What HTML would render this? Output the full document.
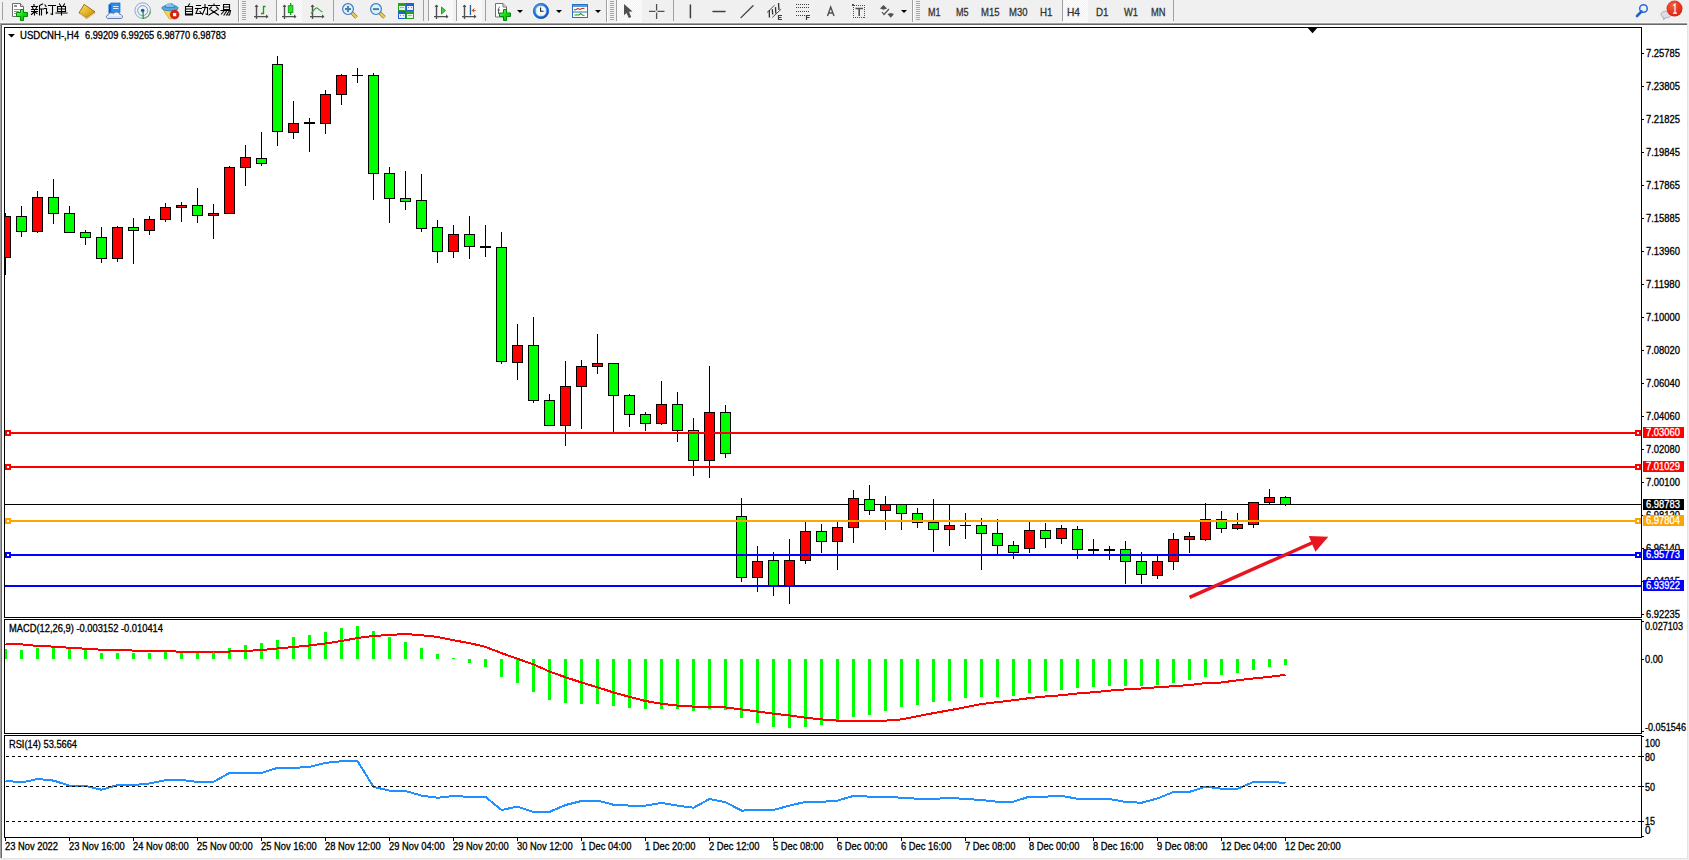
<!DOCTYPE html>
<html><head><meta charset="utf-8"><style>
html,body{margin:0;padding:0;}
body{width:1689px;height:860px;overflow:hidden;background:#f0f0f0;position:relative;font-family:"Liberation Sans",sans-serif;}
svg{position:absolute;left:0;top:0;}
</style></head><body>
<svg width="1689" height="860" viewBox="0 0 1689 860">
<defs>
<clipPath id="clipMain"><rect x="5" y="28" width="1636" height="589"/></clipPath>
<clipPath id="clipMacd"><rect x="5" y="620" width="1636" height="113"/></clipPath>
<clipPath id="clipRsi"><rect x="5" y="736" width="1636" height="101"/></clipPath>
</defs>
<!-- window frame -->
<g shape-rendering="crispEdges">
<rect x="0" y="23" width="1688" height="836" fill="#e3e3e3"/>
<rect x="0" y="23" width="1687" height="835" fill="#a0a0a0"/>
<rect x="1" y="24" width="1686" height="834" fill="#696969"/>
<rect x="2" y="25" width="1685" height="833" fill="#ffffff"/>
<rect x="1687" y="24" width="1" height="835" fill="#e3e3e3"/>
<rect x="1" y="858" width="1687" height="1" fill="#e3e3e3"/>
</g>
<g shape-rendering="crispEdges">
<rect x="5" y="504" width="1636" height="1" fill="#000"/>
<g clip-path="url(#clipMain)" shape-rendering="crispEdges">
<rect x="5" y="213" width="1" height="62" fill="#000"/>
<rect x="0" y="216" width="11" height="42" fill="#000"/>
<rect x="1" y="217" width="9" height="40" fill="#ff0000"/>
<rect x="21" y="206" width="1" height="31" fill="#000"/>
<rect x="16" y="216" width="11" height="16" fill="#000"/>
<rect x="17" y="217" width="9" height="14" fill="#00ff00"/>
<rect x="37" y="191" width="1" height="42" fill="#000"/>
<rect x="32" y="197" width="11" height="35" fill="#000"/>
<rect x="33" y="198" width="9" height="33" fill="#ff0000"/>
<rect x="53" y="179" width="1" height="45" fill="#000"/>
<rect x="48" y="197" width="11" height="17" fill="#000"/>
<rect x="49" y="198" width="9" height="15" fill="#00ff00"/>
<rect x="69" y="206" width="1" height="27" fill="#000"/>
<rect x="64" y="213" width="11" height="20" fill="#000"/>
<rect x="65" y="214" width="9" height="18" fill="#00ff00"/>
<rect x="85" y="230" width="1" height="15" fill="#000"/>
<rect x="80" y="232" width="11" height="6" fill="#000"/>
<rect x="81" y="233" width="9" height="4" fill="#00ff00"/>
<rect x="101" y="227" width="1" height="36" fill="#000"/>
<rect x="96" y="237" width="11" height="22" fill="#000"/>
<rect x="97" y="238" width="9" height="20" fill="#00ff00"/>
<rect x="117" y="226" width="1" height="36" fill="#000"/>
<rect x="112" y="227" width="11" height="32" fill="#000"/>
<rect x="113" y="228" width="9" height="30" fill="#ff0000"/>
<rect x="133" y="218" width="1" height="46" fill="#000"/>
<rect x="128" y="227" width="11" height="4" fill="#000"/>
<rect x="129" y="228" width="9" height="2" fill="#00ff00"/>
<rect x="149" y="216" width="1" height="19" fill="#000"/>
<rect x="144" y="219" width="11" height="12" fill="#000"/>
<rect x="145" y="220" width="9" height="10" fill="#ff0000"/>
<rect x="165" y="203" width="1" height="19" fill="#000"/>
<rect x="160" y="207" width="11" height="13" fill="#000"/>
<rect x="161" y="208" width="9" height="11" fill="#ff0000"/>
<rect x="181" y="202" width="1" height="20" fill="#000"/>
<rect x="176" y="205" width="11" height="3" fill="#000"/>
<rect x="177" y="206" width="9" height="1" fill="#ff0000"/>
<rect x="197" y="188" width="1" height="35" fill="#000"/>
<rect x="192" y="205" width="11" height="11" fill="#000"/>
<rect x="193" y="206" width="9" height="9" fill="#00ff00"/>
<rect x="213" y="204" width="1" height="35" fill="#000"/>
<rect x="208" y="213" width="11" height="3" fill="#000"/>
<rect x="209" y="214" width="9" height="1" fill="#ff0000"/>
<rect x="229" y="166" width="1" height="48" fill="#000"/>
<rect x="224" y="167" width="11" height="47" fill="#000"/>
<rect x="225" y="168" width="9" height="45" fill="#ff0000"/>
<rect x="245" y="145" width="1" height="41" fill="#000"/>
<rect x="240" y="157" width="11" height="11" fill="#000"/>
<rect x="241" y="158" width="9" height="9" fill="#ff0000"/>
<rect x="261" y="132" width="1" height="34" fill="#000"/>
<rect x="256" y="158" width="11" height="6" fill="#000"/>
<rect x="257" y="159" width="9" height="4" fill="#00ff00"/>
<rect x="277" y="56" width="1" height="90" fill="#000"/>
<rect x="272" y="64" width="11" height="68" fill="#000"/>
<rect x="273" y="65" width="9" height="66" fill="#00ff00"/>
<rect x="293" y="101" width="1" height="38" fill="#000"/>
<rect x="288" y="123" width="11" height="10" fill="#000"/>
<rect x="289" y="124" width="9" height="8" fill="#ff0000"/>
<rect x="309" y="118" width="1" height="34" fill="#000"/>
<rect x="304" y="122" width="11" height="2" fill="#000"/>
<rect x="325" y="90" width="1" height="44" fill="#000"/>
<rect x="320" y="94" width="11" height="30" fill="#000"/>
<rect x="321" y="95" width="9" height="28" fill="#ff0000"/>
<rect x="341" y="74" width="1" height="31" fill="#000"/>
<rect x="336" y="75" width="11" height="20" fill="#000"/>
<rect x="337" y="76" width="9" height="18" fill="#ff0000"/>
<rect x="357" y="68" width="1" height="15" fill="#000"/>
<rect x="352" y="75" width="11" height="1" fill="#000"/>
<rect x="373" y="73" width="1" height="127" fill="#000"/>
<rect x="368" y="75" width="11" height="99" fill="#000"/>
<rect x="369" y="76" width="9" height="97" fill="#00ff00"/>
<rect x="389" y="167" width="1" height="56" fill="#000"/>
<rect x="384" y="173" width="11" height="26" fill="#000"/>
<rect x="385" y="174" width="9" height="24" fill="#00ff00"/>
<rect x="405" y="171" width="1" height="39" fill="#000"/>
<rect x="400" y="198" width="11" height="4" fill="#000"/>
<rect x="401" y="199" width="9" height="2" fill="#00ff00"/>
<rect x="421" y="174" width="1" height="58" fill="#000"/>
<rect x="416" y="200" width="11" height="29" fill="#000"/>
<rect x="417" y="201" width="9" height="27" fill="#00ff00"/>
<rect x="437" y="220" width="1" height="43" fill="#000"/>
<rect x="432" y="227" width="11" height="25" fill="#000"/>
<rect x="433" y="228" width="9" height="23" fill="#00ff00"/>
<rect x="453" y="225" width="1" height="33" fill="#000"/>
<rect x="448" y="234" width="11" height="18" fill="#000"/>
<rect x="449" y="235" width="9" height="16" fill="#ff0000"/>
<rect x="469" y="216" width="1" height="43" fill="#000"/>
<rect x="464" y="234" width="11" height="13" fill="#000"/>
<rect x="465" y="235" width="9" height="11" fill="#00ff00"/>
<rect x="485" y="225" width="1" height="32" fill="#000"/>
<rect x="480" y="246" width="11" height="2" fill="#000"/>
<rect x="501" y="232" width="1" height="132" fill="#000"/>
<rect x="496" y="247" width="11" height="115" fill="#000"/>
<rect x="497" y="248" width="9" height="113" fill="#00ff00"/>
<rect x="517" y="324" width="1" height="56" fill="#000"/>
<rect x="512" y="345" width="11" height="18" fill="#000"/>
<rect x="513" y="346" width="9" height="16" fill="#ff0000"/>
<rect x="533" y="317" width="1" height="86" fill="#000"/>
<rect x="528" y="345" width="11" height="56" fill="#000"/>
<rect x="529" y="346" width="9" height="54" fill="#00ff00"/>
<rect x="549" y="394" width="1" height="32" fill="#000"/>
<rect x="544" y="400" width="11" height="26" fill="#000"/>
<rect x="545" y="401" width="9" height="24" fill="#00ff00"/>
<rect x="565" y="361" width="1" height="85" fill="#000"/>
<rect x="560" y="386" width="11" height="40" fill="#000"/>
<rect x="561" y="387" width="9" height="38" fill="#ff0000"/>
<rect x="581" y="360" width="1" height="69" fill="#000"/>
<rect x="576" y="366" width="11" height="21" fill="#000"/>
<rect x="577" y="367" width="9" height="19" fill="#ff0000"/>
<rect x="597" y="334" width="1" height="40" fill="#000"/>
<rect x="592" y="363" width="11" height="4" fill="#000"/>
<rect x="593" y="364" width="9" height="2" fill="#ff0000"/>
<rect x="613" y="363" width="1" height="69" fill="#000"/>
<rect x="608" y="363" width="11" height="33" fill="#000"/>
<rect x="609" y="364" width="9" height="31" fill="#00ff00"/>
<rect x="629" y="394" width="1" height="33" fill="#000"/>
<rect x="624" y="395" width="11" height="20" fill="#000"/>
<rect x="625" y="396" width="9" height="18" fill="#00ff00"/>
<rect x="645" y="412" width="1" height="19" fill="#000"/>
<rect x="640" y="414" width="11" height="10" fill="#000"/>
<rect x="641" y="415" width="9" height="8" fill="#00ff00"/>
<rect x="661" y="381" width="1" height="44" fill="#000"/>
<rect x="656" y="404" width="11" height="20" fill="#000"/>
<rect x="657" y="405" width="9" height="18" fill="#ff0000"/>
<rect x="677" y="392" width="1" height="50" fill="#000"/>
<rect x="672" y="404" width="11" height="27" fill="#000"/>
<rect x="673" y="405" width="9" height="25" fill="#00ff00"/>
<rect x="693" y="418" width="1" height="58" fill="#000"/>
<rect x="688" y="430" width="11" height="31" fill="#000"/>
<rect x="689" y="431" width="9" height="29" fill="#00ff00"/>
<rect x="709" y="366" width="1" height="112" fill="#000"/>
<rect x="704" y="412" width="11" height="49" fill="#000"/>
<rect x="705" y="413" width="9" height="47" fill="#ff0000"/>
<rect x="725" y="405" width="1" height="53" fill="#000"/>
<rect x="720" y="412" width="11" height="42" fill="#000"/>
<rect x="721" y="413" width="9" height="40" fill="#00ff00"/>
<rect x="741" y="498" width="1" height="84" fill="#000"/>
<rect x="736" y="516" width="11" height="62" fill="#000"/>
<rect x="737" y="517" width="9" height="60" fill="#00ff00"/>
<rect x="757" y="546" width="1" height="46" fill="#000"/>
<rect x="752" y="561" width="11" height="17" fill="#000"/>
<rect x="753" y="562" width="9" height="15" fill="#ff0000"/>
<rect x="773" y="552" width="1" height="44" fill="#000"/>
<rect x="768" y="560" width="11" height="27" fill="#000"/>
<rect x="769" y="561" width="9" height="25" fill="#00ff00"/>
<rect x="789" y="539" width="1" height="65" fill="#000"/>
<rect x="784" y="560" width="11" height="27" fill="#000"/>
<rect x="785" y="561" width="9" height="25" fill="#ff0000"/>
<rect x="805" y="522" width="1" height="42" fill="#000"/>
<rect x="800" y="531" width="11" height="30" fill="#000"/>
<rect x="801" y="532" width="9" height="28" fill="#ff0000"/>
<rect x="821" y="524" width="1" height="29" fill="#000"/>
<rect x="816" y="531" width="11" height="11" fill="#000"/>
<rect x="817" y="532" width="9" height="9" fill="#00ff00"/>
<rect x="837" y="522" width="1" height="48" fill="#000"/>
<rect x="832" y="527" width="11" height="15" fill="#000"/>
<rect x="833" y="528" width="9" height="13" fill="#ff0000"/>
<rect x="853" y="490" width="1" height="53" fill="#000"/>
<rect x="848" y="498" width="11" height="30" fill="#000"/>
<rect x="849" y="499" width="9" height="28" fill="#ff0000"/>
<rect x="869" y="485" width="1" height="30" fill="#000"/>
<rect x="864" y="499" width="11" height="12" fill="#000"/>
<rect x="865" y="500" width="9" height="10" fill="#00ff00"/>
<rect x="885" y="496" width="1" height="34" fill="#000"/>
<rect x="880" y="504" width="11" height="7" fill="#000"/>
<rect x="881" y="505" width="9" height="5" fill="#ff0000"/>
<rect x="901" y="504" width="1" height="26" fill="#000"/>
<rect x="896" y="504" width="11" height="10" fill="#000"/>
<rect x="897" y="505" width="9" height="8" fill="#00ff00"/>
<rect x="917" y="508" width="1" height="20" fill="#000"/>
<rect x="912" y="513" width="11" height="10" fill="#000"/>
<rect x="913" y="514" width="9" height="8" fill="#00ff00"/>
<rect x="933" y="499" width="1" height="53" fill="#000"/>
<rect x="928" y="522" width="11" height="8" fill="#000"/>
<rect x="929" y="523" width="9" height="6" fill="#00ff00"/>
<rect x="949" y="504" width="1" height="42" fill="#000"/>
<rect x="944" y="525" width="11" height="5" fill="#000"/>
<rect x="945" y="526" width="9" height="3" fill="#ff0000"/>
<rect x="965" y="513" width="1" height="26" fill="#000"/>
<rect x="960" y="525" width="11" height="1" fill="#000"/>
<rect x="981" y="518" width="1" height="52" fill="#000"/>
<rect x="976" y="525" width="11" height="9" fill="#000"/>
<rect x="977" y="526" width="9" height="7" fill="#00ff00"/>
<rect x="997" y="519" width="1" height="35" fill="#000"/>
<rect x="992" y="533" width="11" height="13" fill="#000"/>
<rect x="993" y="534" width="9" height="11" fill="#00ff00"/>
<rect x="1013" y="541" width="1" height="18" fill="#000"/>
<rect x="1008" y="545" width="11" height="8" fill="#000"/>
<rect x="1009" y="546" width="9" height="6" fill="#00ff00"/>
<rect x="1029" y="522" width="1" height="31" fill="#000"/>
<rect x="1024" y="530" width="11" height="19" fill="#000"/>
<rect x="1025" y="531" width="9" height="17" fill="#ff0000"/>
<rect x="1045" y="523" width="1" height="25" fill="#000"/>
<rect x="1040" y="530" width="11" height="9" fill="#000"/>
<rect x="1041" y="531" width="9" height="7" fill="#00ff00"/>
<rect x="1061" y="525" width="1" height="19" fill="#000"/>
<rect x="1056" y="528" width="11" height="11" fill="#000"/>
<rect x="1057" y="529" width="9" height="9" fill="#ff0000"/>
<rect x="1077" y="526" width="1" height="33" fill="#000"/>
<rect x="1072" y="529" width="11" height="21" fill="#000"/>
<rect x="1073" y="530" width="9" height="19" fill="#00ff00"/>
<rect x="1093" y="539" width="1" height="15" fill="#000"/>
<rect x="1088" y="549" width="11" height="2" fill="#000"/>
<rect x="1109" y="546" width="1" height="14" fill="#000"/>
<rect x="1104" y="549" width="11" height="2" fill="#000"/>
<rect x="1125" y="541" width="1" height="43" fill="#000"/>
<rect x="1120" y="549" width="11" height="13" fill="#000"/>
<rect x="1121" y="550" width="9" height="11" fill="#00ff00"/>
<rect x="1141" y="552" width="1" height="32" fill="#000"/>
<rect x="1136" y="561" width="11" height="14" fill="#000"/>
<rect x="1137" y="562" width="9" height="12" fill="#00ff00"/>
<rect x="1157" y="556" width="1" height="23" fill="#000"/>
<rect x="1152" y="561" width="11" height="15" fill="#000"/>
<rect x="1153" y="562" width="9" height="13" fill="#ff0000"/>
<rect x="1173" y="533" width="1" height="37" fill="#000"/>
<rect x="1168" y="539" width="11" height="23" fill="#000"/>
<rect x="1169" y="540" width="9" height="21" fill="#ff0000"/>
<rect x="1189" y="532" width="1" height="21" fill="#000"/>
<rect x="1184" y="536" width="11" height="4" fill="#000"/>
<rect x="1185" y="537" width="9" height="2" fill="#ff0000"/>
<rect x="1205" y="503" width="1" height="38" fill="#000"/>
<rect x="1200" y="519" width="11" height="21" fill="#000"/>
<rect x="1201" y="520" width="9" height="19" fill="#ff0000"/>
<rect x="1221" y="511" width="1" height="22" fill="#000"/>
<rect x="1216" y="519" width="11" height="10" fill="#000"/>
<rect x="1217" y="520" width="9" height="8" fill="#00ff00"/>
<rect x="1237" y="513" width="1" height="17" fill="#000"/>
<rect x="1232" y="524" width="11" height="5" fill="#000"/>
<rect x="1233" y="525" width="9" height="3" fill="#ff0000"/>
<rect x="1253" y="502" width="1" height="26" fill="#000"/>
<rect x="1248" y="502" width="11" height="23" fill="#000"/>
<rect x="1249" y="503" width="9" height="21" fill="#ff0000"/>
<rect x="1269" y="489" width="1" height="15" fill="#000"/>
<rect x="1264" y="497" width="11" height="6" fill="#000"/>
<rect x="1265" y="498" width="9" height="4" fill="#ff0000"/>
<rect x="1285" y="496" width="1" height="10" fill="#000"/>
<rect x="1280" y="497" width="11" height="8" fill="#000"/>
<rect x="1281" y="498" width="9" height="6" fill="#00ff00"/>
</g>
<g clip-path="url(#clipMacd)">
<g shape-rendering="crispEdges">
<rect x="4" y="649" width="3" height="10" fill="#00ff00"/>
<rect x="20" y="650" width="3" height="9" fill="#00ff00"/>
<rect x="36" y="648" width="3" height="11" fill="#00ff00"/>
<rect x="52" y="648" width="3" height="11" fill="#00ff00"/>
<rect x="68" y="649" width="3" height="10" fill="#00ff00"/>
<rect x="84" y="650" width="3" height="9" fill="#00ff00"/>
<rect x="100" y="653" width="3" height="6" fill="#00ff00"/>
<rect x="116" y="653" width="3" height="6" fill="#00ff00"/>
<rect x="132" y="653" width="3" height="6" fill="#00ff00"/>
<rect x="148" y="653" width="3" height="6" fill="#00ff00"/>
<rect x="164" y="652" width="3" height="7" fill="#00ff00"/>
<rect x="180" y="652" width="3" height="7" fill="#00ff00"/>
<rect x="196" y="653" width="3" height="6" fill="#00ff00"/>
<rect x="212" y="652" width="3" height="7" fill="#00ff00"/>
<rect x="228" y="648" width="3" height="11" fill="#00ff00"/>
<rect x="244" y="645" width="3" height="14" fill="#00ff00"/>
<rect x="260" y="643" width="3" height="16" fill="#00ff00"/>
<rect x="276" y="640" width="3" height="19" fill="#00ff00"/>
<rect x="292" y="637" width="3" height="22" fill="#00ff00"/>
<rect x="308" y="635" width="3" height="24" fill="#00ff00"/>
<rect x="324" y="632" width="3" height="27" fill="#00ff00"/>
<rect x="340" y="628" width="3" height="31" fill="#00ff00"/>
<rect x="356" y="626" width="3" height="33" fill="#00ff00"/>
<rect x="372" y="631" width="3" height="28" fill="#00ff00"/>
<rect x="388" y="637" width="3" height="22" fill="#00ff00"/>
<rect x="404" y="642" width="3" height="17" fill="#00ff00"/>
<rect x="420" y="648" width="3" height="11" fill="#00ff00"/>
<rect x="436" y="654" width="3" height="5" fill="#00ff00"/>
<rect x="452" y="658" width="3" height="1" fill="#00ff00"/>
<rect x="468" y="659" width="3" height="4" fill="#00ff00"/>
<rect x="484" y="659" width="3" height="8" fill="#00ff00"/>
<rect x="500" y="659" width="3" height="18" fill="#00ff00"/>
<rect x="516" y="659" width="3" height="24" fill="#00ff00"/>
<rect x="532" y="659" width="3" height="33" fill="#00ff00"/>
<rect x="548" y="659" width="3" height="41" fill="#00ff00"/>
<rect x="564" y="659" width="3" height="44" fill="#00ff00"/>
<rect x="580" y="659" width="3" height="45" fill="#00ff00"/>
<rect x="596" y="659" width="3" height="45" fill="#00ff00"/>
<rect x="612" y="659" width="3" height="47" fill="#00ff00"/>
<rect x="628" y="659" width="3" height="49" fill="#00ff00"/>
<rect x="644" y="659" width="3" height="50" fill="#00ff00"/>
<rect x="660" y="659" width="3" height="50" fill="#00ff00"/>
<rect x="676" y="659" width="3" height="50" fill="#00ff00"/>
<rect x="692" y="659" width="3" height="52" fill="#00ff00"/>
<rect x="708" y="659" width="3" height="50" fill="#00ff00"/>
<rect x="724" y="659" width="3" height="51" fill="#00ff00"/>
<rect x="740" y="659" width="3" height="59" fill="#00ff00"/>
<rect x="756" y="659" width="3" height="64" fill="#00ff00"/>
<rect x="772" y="659" width="3" height="68" fill="#00ff00"/>
<rect x="788" y="659" width="3" height="69" fill="#00ff00"/>
<rect x="804" y="659" width="3" height="68" fill="#00ff00"/>
<rect x="820" y="659" width="3" height="66" fill="#00ff00"/>
<rect x="836" y="659" width="3" height="63" fill="#00ff00"/>
<rect x="852" y="659" width="3" height="58" fill="#00ff00"/>
<rect x="868" y="659" width="3" height="56" fill="#00ff00"/>
<rect x="884" y="659" width="3" height="52" fill="#00ff00"/>
<rect x="900" y="659" width="3" height="48" fill="#00ff00"/>
<rect x="916" y="659" width="3" height="46" fill="#00ff00"/>
<rect x="932" y="659" width="3" height="43" fill="#00ff00"/>
<rect x="948" y="659" width="3" height="42" fill="#00ff00"/>
<rect x="964" y="659" width="3" height="39" fill="#00ff00"/>
<rect x="980" y="659" width="3" height="38" fill="#00ff00"/>
<rect x="996" y="659" width="3" height="38" fill="#00ff00"/>
<rect x="1012" y="659" width="3" height="37" fill="#00ff00"/>
<rect x="1028" y="659" width="3" height="34" fill="#00ff00"/>
<rect x="1044" y="659" width="3" height="32" fill="#00ff00"/>
<rect x="1060" y="659" width="3" height="31" fill="#00ff00"/>
<rect x="1076" y="659" width="3" height="29" fill="#00ff00"/>
<rect x="1092" y="659" width="3" height="28" fill="#00ff00"/>
<rect x="1108" y="659" width="3" height="27" fill="#00ff00"/>
<rect x="1124" y="659" width="3" height="27" fill="#00ff00"/>
<rect x="1140" y="659" width="3" height="27" fill="#00ff00"/>
<rect x="1156" y="659" width="3" height="26" fill="#00ff00"/>
<rect x="1172" y="659" width="3" height="24" fill="#00ff00"/>
<rect x="1188" y="659" width="3" height="21" fill="#00ff00"/>
<rect x="1204" y="659" width="3" height="18" fill="#00ff00"/>
<rect x="1220" y="659" width="3" height="16" fill="#00ff00"/>
<rect x="1236" y="659" width="3" height="14" fill="#00ff00"/>
<rect x="1252" y="659" width="3" height="11" fill="#00ff00"/>
<rect x="1268" y="659" width="3" height="8" fill="#00ff00"/>
<rect x="1284" y="659" width="3" height="6" fill="#00ff00"/>
</g>
<polyline points="5.5,643.75 21.5,644.4 37.5,645.9 53.5,646.6 69.5,647.75 85.5,648.75 101.5,649.75 117.5,649.75 133.5,650.6 149.5,650.75 165.5,650.75 181.5,651.9 197.5,651.9 213.5,651.5 229.5,651.5 245.5,651 261.5,650 277.5,648.5 293.5,647 309.5,645.5 325.5,643.5 341.5,641 357.5,638 373.5,636 389.5,635 405.5,634 421.5,635.25 437.5,636.9 453.5,640.25 469.5,643.1 485.5,646.9 501.5,653.1 517.5,658.75 533.5,664.4 549.5,671.5 565.5,677.25 581.5,682.5 597.5,687.25 613.5,692.5 629.5,696.9 645.5,701 661.5,703.75 677.5,705.6 693.5,706.6 709.5,706.9 725.5,707.5 741.5,709.4 757.5,711.5 773.5,713.75 789.5,715.4 805.5,717.75 821.5,719.4 837.5,720.6 853.5,721 869.5,721 885.5,720.6 901.5,719.4 917.5,716.25 933.5,713.1 949.5,710.25 965.5,707.25 981.5,704 997.5,702.1 1013.5,700.25 1029.5,698.1 1045.5,696.5 1061.5,695.25 1077.5,693.5 1093.5,692.25 1109.5,690.6 1125.5,689.4 1141.5,688.5 1157.5,687.25 1173.5,686.25 1189.5,685 1205.5,683.1 1221.5,682.5 1237.5,680.25 1253.5,678.5 1269.5,676.8 1285.5,674.9" fill="none" stroke="#ff0000" stroke-width="2" shape-rendering="crispEdges"/>
</g>
</g>
<g clip-path="url(#clipRsi)">
<polyline points="5.5,780.6 21.5,782.5 37.5,779 53.5,780.6 69.5,785.6 85.5,786 101.5,789.75 117.5,785 133.5,785 149.5,783.5 165.5,780.25 181.5,780 197.5,781.9 213.5,781.9 229.5,772.9 245.5,772.9 261.5,772.9 277.5,767.9 293.5,767.9 309.5,766.9 325.5,762.9 341.5,761.25 357.5,761 373.5,786.9 389.5,790.6 405.5,791 421.5,795.6 437.5,797.75 453.5,796 469.5,796.9 485.5,796.9 501.5,810 517.5,806.6 533.5,811.9 549.5,811.9 565.5,805 581.5,801 597.5,800.6 613.5,804.75 629.5,805.6 645.5,805.6 661.5,802.9 677.5,805.6 693.5,807.75 709.5,799 725.5,802.25 741.5,810.6 757.5,810 773.5,810 789.5,805.6 805.5,801.9 821.5,801.9 837.5,800.6 853.5,795.9 869.5,796.6 885.5,796.6 901.5,797.75 917.5,798.75 933.5,799 949.5,797.75 965.5,799 981.5,800 997.5,801.75 1013.5,801.6 1029.5,796.6 1045.5,796.6 1061.5,795.9 1077.5,798.75 1093.5,799 1109.5,799 1125.5,801.9 1141.5,802.75 1157.5,798.4 1173.5,792 1189.5,791.9 1205.5,786.6 1221.5,788.75 1237.5,788.75 1253.5,781.9 1269.5,781.9 1285.5,782.9" fill="none" stroke="#1e90ff" stroke-width="2" shape-rendering="crispEdges"/>
</g>
<g shape-rendering="crispEdges">
<!-- rsi levels -->
<line x1="6" y1="756.5" x2="1641" y2="756.5" stroke="#000" stroke-dasharray="3,3"/>
<line x1="6" y1="786.5" x2="1641" y2="786.5" stroke="#000" stroke-dasharray="3,3"/>
<line x1="6" y1="821.5" x2="1641" y2="821.5" stroke="#000" stroke-dasharray="3,3"/>
<!-- panel borders -->
<rect x="4.5" y="27.5" width="1637" height="590" fill="none" stroke="#000"/>
<rect x="4.5" y="619.5" width="1637" height="114" fill="none" stroke="#000"/>
<rect x="4.5" y="735.5" width="1637" height="102" fill="none" stroke="#000"/>
<rect x="1642" y="53" width="2" height="1" fill="#000"/>
<text x="1646" y="57" font-family="Liberation Sans, sans-serif" font-size="10" fill="#000" textLength="34" lengthAdjust="spacingAndGlyphs" stroke="#000" stroke-width="0.3">7.25785</text>
<rect x="1642" y="86" width="2" height="1" fill="#000"/>
<text x="1646" y="90" font-family="Liberation Sans, sans-serif" font-size="10" fill="#000" textLength="34" lengthAdjust="spacingAndGlyphs" stroke="#000" stroke-width="0.3">7.23805</text>
<rect x="1642" y="119" width="2" height="1" fill="#000"/>
<text x="1646" y="123" font-family="Liberation Sans, sans-serif" font-size="10" fill="#000" textLength="34" lengthAdjust="spacingAndGlyphs" stroke="#000" stroke-width="0.3">7.21825</text>
<rect x="1642" y="152" width="2" height="1" fill="#000"/>
<text x="1646" y="156" font-family="Liberation Sans, sans-serif" font-size="10" fill="#000" textLength="34" lengthAdjust="spacingAndGlyphs" stroke="#000" stroke-width="0.3">7.19845</text>
<rect x="1642" y="185" width="2" height="1" fill="#000"/>
<text x="1646" y="189" font-family="Liberation Sans, sans-serif" font-size="10" fill="#000" textLength="34" lengthAdjust="spacingAndGlyphs" stroke="#000" stroke-width="0.3">7.17865</text>
<rect x="1642" y="218" width="2" height="1" fill="#000"/>
<text x="1646" y="222" font-family="Liberation Sans, sans-serif" font-size="10" fill="#000" textLength="34" lengthAdjust="spacingAndGlyphs" stroke="#000" stroke-width="0.3">7.15885</text>
<rect x="1642" y="251" width="2" height="1" fill="#000"/>
<text x="1646" y="255" font-family="Liberation Sans, sans-serif" font-size="10" fill="#000" textLength="34" lengthAdjust="spacingAndGlyphs" stroke="#000" stroke-width="0.3">7.13960</text>
<rect x="1642" y="284" width="2" height="1" fill="#000"/>
<text x="1646" y="288" font-family="Liberation Sans, sans-serif" font-size="10" fill="#000" textLength="34" lengthAdjust="spacingAndGlyphs" stroke="#000" stroke-width="0.3">7.11980</text>
<rect x="1642" y="317" width="2" height="1" fill="#000"/>
<text x="1646" y="321" font-family="Liberation Sans, sans-serif" font-size="10" fill="#000" textLength="34" lengthAdjust="spacingAndGlyphs" stroke="#000" stroke-width="0.3">7.10000</text>
<rect x="1642" y="350" width="2" height="1" fill="#000"/>
<text x="1646" y="354" font-family="Liberation Sans, sans-serif" font-size="10" fill="#000" textLength="34" lengthAdjust="spacingAndGlyphs" stroke="#000" stroke-width="0.3">7.08020</text>
<rect x="1642" y="383" width="2" height="1" fill="#000"/>
<text x="1646" y="387" font-family="Liberation Sans, sans-serif" font-size="10" fill="#000" textLength="34" lengthAdjust="spacingAndGlyphs" stroke="#000" stroke-width="0.3">7.06040</text>
<rect x="1642" y="416" width="2" height="1" fill="#000"/>
<text x="1646" y="420" font-family="Liberation Sans, sans-serif" font-size="10" fill="#000" textLength="34" lengthAdjust="spacingAndGlyphs" stroke="#000" stroke-width="0.3">7.04060</text>
<rect x="1642" y="449" width="2" height="1" fill="#000"/>
<text x="1646" y="453" font-family="Liberation Sans, sans-serif" font-size="10" fill="#000" textLength="34" lengthAdjust="spacingAndGlyphs" stroke="#000" stroke-width="0.3">7.02080</text>
<rect x="1642" y="482" width="2" height="1" fill="#000"/>
<text x="1646" y="486" font-family="Liberation Sans, sans-serif" font-size="10" fill="#000" textLength="34" lengthAdjust="spacingAndGlyphs" stroke="#000" stroke-width="0.3">7.00100</text>
<rect x="1642" y="515" width="2" height="1" fill="#000"/>
<text x="1646" y="519" font-family="Liberation Sans, sans-serif" font-size="10" fill="#000" textLength="34" lengthAdjust="spacingAndGlyphs" stroke="#000" stroke-width="0.3">6.98120</text>
<rect x="1642" y="548" width="2" height="1" fill="#000"/>
<text x="1646" y="552" font-family="Liberation Sans, sans-serif" font-size="10" fill="#000" textLength="34" lengthAdjust="spacingAndGlyphs" stroke="#000" stroke-width="0.3">6.96140</text>
<rect x="1642" y="581" width="2" height="1" fill="#000"/>
<text x="1646" y="585" font-family="Liberation Sans, sans-serif" font-size="10" fill="#000" textLength="34" lengthAdjust="spacingAndGlyphs" stroke="#000" stroke-width="0.3">6.94215</text>
<rect x="1642" y="614" width="2" height="1" fill="#000"/>
<text x="1646" y="618" font-family="Liberation Sans, sans-serif" font-size="10" fill="#000" textLength="34" lengthAdjust="spacingAndGlyphs" stroke="#000" stroke-width="0.3">6.92235</text>
<rect x="5" y="432" width="1636" height="2" fill="#ff0000"/>
<rect x="5" y="430" width="6" height="6" fill="#ff0000"/>
<rect x="7" y="432" width="2" height="2" fill="#fff"/>
<rect x="1635" y="430" width="6" height="6" fill="#ff0000"/>
<rect x="1637" y="432" width="2" height="2" fill="#fff"/>
<rect x="5" y="466" width="1636" height="2" fill="#ff0000"/>
<rect x="5" y="464" width="6" height="6" fill="#ff0000"/>
<rect x="7" y="466" width="2" height="2" fill="#fff"/>
<rect x="1635" y="464" width="6" height="6" fill="#ff0000"/>
<rect x="1637" y="466" width="2" height="2" fill="#fff"/>
<rect x="5" y="520" width="1636" height="2" fill="#ffa500"/>
<rect x="5" y="518" width="6" height="6" fill="#ffa500"/>
<rect x="7" y="520" width="2" height="2" fill="#fff"/>
<rect x="1635" y="518" width="6" height="6" fill="#ffa500"/>
<rect x="1637" y="520" width="2" height="2" fill="#fff"/>
<rect x="5" y="554" width="1636" height="2" fill="#0000ff"/>
<rect x="5" y="552" width="6" height="6" fill="#0000ff"/>
<rect x="7" y="554" width="2" height="2" fill="#fff"/>
<rect x="1635" y="552" width="6" height="6" fill="#0000ff"/>
<rect x="1637" y="554" width="2" height="2" fill="#fff"/>
<rect x="5" y="585" width="1636" height="2" fill="#0000ff"/>
<rect x="1643" y="427" width="41" height="11" fill="#ff0000"/>
<text x="1646" y="436" font-family="Liberation Sans, sans-serif" font-size="10" fill="#fff" textLength="34" lengthAdjust="spacingAndGlyphs" stroke="#fff" stroke-width="0.3">7.03060</text>
<rect x="1643" y="461" width="41" height="11" fill="#ff0000"/>
<text x="1646" y="470" font-family="Liberation Sans, sans-serif" font-size="10" fill="#fff" textLength="34" lengthAdjust="spacingAndGlyphs" stroke="#fff" stroke-width="0.3">7.01029</text>
<rect x="1643" y="499" width="41" height="11" fill="#000000"/>
<text x="1646" y="508" font-family="Liberation Sans, sans-serif" font-size="10" fill="#fff" textLength="34" lengthAdjust="spacingAndGlyphs" stroke="#fff" stroke-width="0.3">6.98783</text>
<rect x="1643" y="515" width="41" height="11" fill="#ffa500"/>
<text x="1646" y="524" font-family="Liberation Sans, sans-serif" font-size="10" fill="#fff" textLength="34" lengthAdjust="spacingAndGlyphs" stroke="#fff" stroke-width="0.3">6.97804</text>
<rect x="1643" y="549" width="41" height="11" fill="#0000ff"/>
<text x="1646" y="558" font-family="Liberation Sans, sans-serif" font-size="10" fill="#fff" textLength="34" lengthAdjust="spacingAndGlyphs" stroke="#fff" stroke-width="0.3">6.95773</text>
<rect x="1643" y="580" width="41" height="11" fill="#0000ff"/>
<text x="1646" y="589" font-family="Liberation Sans, sans-serif" font-size="10" fill="#fff" textLength="34" lengthAdjust="spacingAndGlyphs" stroke="#fff" stroke-width="0.3">6.93922</text>
<rect x="5" y="838" width="1" height="3" fill="#000"/>
<text x="5" y="850" font-family="Liberation Sans, sans-serif" font-size="10" fill="#000" textLength="53.0" lengthAdjust="spacingAndGlyphs" stroke="#000" stroke-width="0.3">23 Nov 2022</text>
<rect x="69" y="838" width="1" height="3" fill="#000"/>
<text x="69" y="850" font-family="Liberation Sans, sans-serif" font-size="10" fill="#000" textLength="55.6" lengthAdjust="spacingAndGlyphs" stroke="#000" stroke-width="0.3">23 Nov 16:00</text>
<rect x="133" y="838" width="1" height="3" fill="#000"/>
<text x="133" y="850" font-family="Liberation Sans, sans-serif" font-size="10" fill="#000" textLength="55.6" lengthAdjust="spacingAndGlyphs" stroke="#000" stroke-width="0.3">24 Nov 08:00</text>
<rect x="197" y="838" width="1" height="3" fill="#000"/>
<text x="197" y="850" font-family="Liberation Sans, sans-serif" font-size="10" fill="#000" textLength="55.6" lengthAdjust="spacingAndGlyphs" stroke="#000" stroke-width="0.3">25 Nov 00:00</text>
<rect x="261" y="838" width="1" height="3" fill="#000"/>
<text x="261" y="850" font-family="Liberation Sans, sans-serif" font-size="10" fill="#000" textLength="55.6" lengthAdjust="spacingAndGlyphs" stroke="#000" stroke-width="0.3">25 Nov 16:00</text>
<rect x="325" y="838" width="1" height="3" fill="#000"/>
<text x="325" y="850" font-family="Liberation Sans, sans-serif" font-size="10" fill="#000" textLength="55.6" lengthAdjust="spacingAndGlyphs" stroke="#000" stroke-width="0.3">28 Nov 12:00</text>
<rect x="389" y="838" width="1" height="3" fill="#000"/>
<text x="389" y="850" font-family="Liberation Sans, sans-serif" font-size="10" fill="#000" textLength="55.6" lengthAdjust="spacingAndGlyphs" stroke="#000" stroke-width="0.3">29 Nov 04:00</text>
<rect x="453" y="838" width="1" height="3" fill="#000"/>
<text x="453" y="850" font-family="Liberation Sans, sans-serif" font-size="10" fill="#000" textLength="55.6" lengthAdjust="spacingAndGlyphs" stroke="#000" stroke-width="0.3">29 Nov 20:00</text>
<rect x="517" y="838" width="1" height="3" fill="#000"/>
<text x="517" y="850" font-family="Liberation Sans, sans-serif" font-size="10" fill="#000" textLength="55.6" lengthAdjust="spacingAndGlyphs" stroke="#000" stroke-width="0.3">30 Nov 12:00</text>
<rect x="581" y="838" width="1" height="3" fill="#000"/>
<text x="581" y="850" font-family="Liberation Sans, sans-serif" font-size="10" fill="#000" textLength="50.4" lengthAdjust="spacingAndGlyphs" stroke="#000" stroke-width="0.3">1 Dec 04:00</text>
<rect x="645" y="838" width="1" height="3" fill="#000"/>
<text x="645" y="850" font-family="Liberation Sans, sans-serif" font-size="10" fill="#000" textLength="50.4" lengthAdjust="spacingAndGlyphs" stroke="#000" stroke-width="0.3">1 Dec 20:00</text>
<rect x="709" y="838" width="1" height="3" fill="#000"/>
<text x="709" y="850" font-family="Liberation Sans, sans-serif" font-size="10" fill="#000" textLength="50.4" lengthAdjust="spacingAndGlyphs" stroke="#000" stroke-width="0.3">2 Dec 12:00</text>
<rect x="773" y="838" width="1" height="3" fill="#000"/>
<text x="773" y="850" font-family="Liberation Sans, sans-serif" font-size="10" fill="#000" textLength="50.4" lengthAdjust="spacingAndGlyphs" stroke="#000" stroke-width="0.3">5 Dec 08:00</text>
<rect x="837" y="838" width="1" height="3" fill="#000"/>
<text x="837" y="850" font-family="Liberation Sans, sans-serif" font-size="10" fill="#000" textLength="50.4" lengthAdjust="spacingAndGlyphs" stroke="#000" stroke-width="0.3">6 Dec 00:00</text>
<rect x="901" y="838" width="1" height="3" fill="#000"/>
<text x="901" y="850" font-family="Liberation Sans, sans-serif" font-size="10" fill="#000" textLength="50.4" lengthAdjust="spacingAndGlyphs" stroke="#000" stroke-width="0.3">6 Dec 16:00</text>
<rect x="965" y="838" width="1" height="3" fill="#000"/>
<text x="965" y="850" font-family="Liberation Sans, sans-serif" font-size="10" fill="#000" textLength="50.4" lengthAdjust="spacingAndGlyphs" stroke="#000" stroke-width="0.3">7 Dec 08:00</text>
<rect x="1029" y="838" width="1" height="3" fill="#000"/>
<text x="1029" y="850" font-family="Liberation Sans, sans-serif" font-size="10" fill="#000" textLength="50.4" lengthAdjust="spacingAndGlyphs" stroke="#000" stroke-width="0.3">8 Dec 00:00</text>
<rect x="1093" y="838" width="1" height="3" fill="#000"/>
<text x="1093" y="850" font-family="Liberation Sans, sans-serif" font-size="10" fill="#000" textLength="50.4" lengthAdjust="spacingAndGlyphs" stroke="#000" stroke-width="0.3">8 Dec 16:00</text>
<rect x="1157" y="838" width="1" height="3" fill="#000"/>
<text x="1157" y="850" font-family="Liberation Sans, sans-serif" font-size="10" fill="#000" textLength="50.4" lengthAdjust="spacingAndGlyphs" stroke="#000" stroke-width="0.3">9 Dec 08:00</text>
<rect x="1221" y="838" width="1" height="3" fill="#000"/>
<text x="1221" y="850" font-family="Liberation Sans, sans-serif" font-size="10" fill="#000" textLength="55.6" lengthAdjust="spacingAndGlyphs" stroke="#000" stroke-width="0.3">12 Dec 04:00</text>
<rect x="1285" y="838" width="1" height="3" fill="#000"/>
<text x="1285" y="850" font-family="Liberation Sans, sans-serif" font-size="10" fill="#000" textLength="55.6" lengthAdjust="spacingAndGlyphs" stroke="#000" stroke-width="0.3">12 Dec 20:00</text>
<!-- macd axis -->
<rect x="1642" y="621" width="2" height="1" fill="#000"/>
<rect x="1642" y="659" width="2" height="1" fill="#000"/>
<rect x="1642" y="731" width="2" height="1" fill="#000"/>
<text x="1645" y="630" font-family="Liberation Sans, sans-serif" font-size="10" fill="#000" textLength="38" lengthAdjust="spacingAndGlyphs" stroke="#000" stroke-width="0.3">0.027103</text>
<text x="1645" y="663" font-family="Liberation Sans, sans-serif" font-size="10" fill="#000" textLength="18" lengthAdjust="spacingAndGlyphs" stroke="#000" stroke-width="0.3">0.00</text>
<text x="1645" y="731" font-family="Liberation Sans, sans-serif" font-size="10" fill="#000" textLength="41" lengthAdjust="spacingAndGlyphs" stroke="#000" stroke-width="0.3">-0.051546</text>
<!-- rsi axis -->
<rect x="1642" y="736" width="2" height="1" fill="#000"/>
<rect x="1642" y="756" width="2" height="1" fill="#000"/>
<rect x="1642" y="786" width="2" height="1" fill="#000"/>
<rect x="1642" y="821" width="2" height="1" fill="#000"/>
<rect x="1642" y="836" width="2" height="1" fill="#000"/>
<text x="1645" y="747" font-family="Liberation Sans, sans-serif" font-size="10" fill="#000" textLength="15" lengthAdjust="spacingAndGlyphs" stroke="#000" stroke-width="0.3">100</text>
<text x="1645" y="761" font-family="Liberation Sans, sans-serif" font-size="10" fill="#000" textLength="10" lengthAdjust="spacingAndGlyphs" stroke="#000" stroke-width="0.3">80</text>
<text x="1645" y="791" font-family="Liberation Sans, sans-serif" font-size="10" fill="#000" textLength="10" lengthAdjust="spacingAndGlyphs" stroke="#000" stroke-width="0.3">50</text>
<text x="1645" y="825" font-family="Liberation Sans, sans-serif" font-size="10" fill="#000" textLength="10" lengthAdjust="spacingAndGlyphs" stroke="#000" stroke-width="0.3">15</text>
<text x="1645" y="834" font-family="Liberation Sans, sans-serif" font-size="10" fill="#000" stroke="#000" stroke-width="0.3">0</text>
<!-- shift marker -->
<polygon points="1307.8,28 1317.2,28 1312.5,33.2" fill="#000" shape-rendering="auto"/>
<polygon points="8,34 15,34 11.5,37.5" fill="#000" shape-rendering="auto"/>
</g>
<text x="20" y="39" font-family="Liberation Sans, sans-serif" font-size="10" fill="#000" textLength="59" lengthAdjust="spacingAndGlyphs" stroke="#000" stroke-width="0.3">USDCNH-,H4</text>
<text x="85" y="39" font-family="Liberation Sans, sans-serif" font-size="10" fill="#000" textLength="141" lengthAdjust="spacingAndGlyphs" stroke="#000" stroke-width="0.3">6.99209 6.99265 6.98770 6.98783</text>
<text x="9" y="632" font-family="Liberation Sans, sans-serif" font-size="10" fill="#000" textLength="154" lengthAdjust="spacingAndGlyphs" stroke="#000" stroke-width="0.3">MACD(12,26,9) -0.003152 -0.010414</text>
<text x="9" y="748" font-family="Liberation Sans, sans-serif" font-size="10" fill="#000" textLength="68" lengthAdjust="spacingAndGlyphs" stroke="#000" stroke-width="0.3">RSI(14) 53.5664</text>
<!-- arrow -->
<g>
<line x1="1189.6" y1="597.4" x2="1314" y2="542" stroke="#e8141e" stroke-width="3.4"/>
<polygon points="1328.3,536.7 1308.8,536 1315.4,551.8" fill="#e8141e"/>
</g>
<!-- <defs>
<pattern id="chk" width="2" height="2" patternUnits="userSpaceOnUse"><rect width="2" height="2" fill="#f3f3f3"/><rect width="1" height="1" fill="#fcfcfc"/><rect x="1" y="1" width="1" height="1" fill="#fcfcfc"/></pattern>
<linearGradient id="gPlus" x1="0" y1="0" x2="1" y2="1"><stop offset="0" stop-color="#9af59a"/><stop offset="0.5" stop-color="#10e010"/><stop offset="1" stop-color="#00b000"/></linearGradient>
<linearGradient id="gGold" x1="0" y1="0" x2="1" y2="1"><stop offset="0" stop-color="#f8e070"/><stop offset="0.6" stop-color="#e0b020"/><stop offset="1" stop-color="#b07810"/></linearGradient>
<radialGradient id="gClock" cx="0.4" cy="0.35" r="0.7"><stop offset="0" stop-color="#80c8ff"/><stop offset="0.6" stop-color="#1e78e0"/><stop offset="1" stop-color="#0a4aa8"/></radialGradient>
<radialGradient id="gBadge" cx="0.4" cy="0.3" r="0.8"><stop offset="0" stop-color="#f06040"/><stop offset="1" stop-color="#d81808"/></radialGradient>
</defs>
<g id="toolbar">
<rect x="0" y="0" width="1689" height="23" fill="#f0f0f0"/>
<rect x="0" y="22" width="1689" height="1" fill="#f7f7f7"/>
<g shape-rendering="crispEdges">
<!-- separators -->
<rect x="2" y="2" width="1" height="18" fill="#a0a0a0"/>
<rect x="238" y="0" width="1" height="22" fill="#a0a0a0"/><rect x="239" y="0" width="1" height="22" fill="#ffffff"/>
<rect x="276" y="0" width="1" height="21" fill="#a0a0a0"/>
<rect x="333" y="0" width="1" height="21" fill="#a0a0a0"/>
<rect x="423" y="0" width="1" height="21" fill="#a0a0a0"/>
<rect x="485" y="0" width="1" height="21" fill="#a0a0a0"/>
<rect x="606" y="0" width="1" height="22" fill="#a0a0a0"/><rect x="607" y="0" width="1" height="22" fill="#ffffff"/>
<rect x="673" y="0" width="1" height="21" fill="#a0a0a0"/>
<rect x="912" y="0" width="1" height="22" fill="#a0a0a0"/><rect x="913" y="0" width="1" height="22" fill="#ffffff"/>
<rect x="1173" y="0" width="1" height="21" fill="#a0a0a0"/>
<!-- grippers -->
<g fill="#a8a8a8">
<rect x="242" y="1" width="4" height="1"/><rect x="242" y="3" width="4" height="1"/><rect x="242" y="5" width="4" height="1"/><rect x="242" y="7" width="4" height="1"/><rect x="242" y="9" width="4" height="1"/><rect x="242" y="11" width="4" height="1"/><rect x="242" y="13" width="4" height="1"/><rect x="242" y="15" width="4" height="1"/><rect x="242" y="17" width="4" height="1"/><rect x="242" y="19" width="4" height="1"/>
<rect x="610" y="1" width="4" height="1"/><rect x="610" y="3" width="4" height="1"/><rect x="610" y="5" width="4" height="1"/><rect x="610" y="7" width="4" height="1"/><rect x="610" y="9" width="4" height="1"/><rect x="610" y="11" width="4" height="1"/><rect x="610" y="13" width="4" height="1"/><rect x="610" y="15" width="4" height="1"/><rect x="610" y="17" width="4" height="1"/><rect x="610" y="19" width="4" height="1"/>
<rect x="916" y="1" width="4" height="1"/><rect x="916" y="3" width="4" height="1"/><rect x="916" y="5" width="4" height="1"/><rect x="916" y="7" width="4" height="1"/><rect x="916" y="9" width="4" height="1"/><rect x="916" y="11" width="4" height="1"/><rect x="916" y="13" width="4" height="1"/><rect x="916" y="15" width="4" height="1"/><rect x="916" y="17" width="4" height="1"/><rect x="916" y="19" width="4" height="1"/>
</g>
<!-- pressed buttons -->
<rect x="277" y="0" width="25" height="21" fill="url(#chk)"/><rect x="277" y="21" width="25" height="1" fill="#fff"/>
<rect x="428" y="0" width="25" height="21" fill="url(#chk)"/><rect x="428" y="0" width="1" height="21" fill="#a0a0a0"/><rect x="428" y="21" width="25" height="1" fill="#fff"/>
<rect x="456" y="0" width="26" height="21" fill="url(#chk)"/><rect x="456" y="0" width="1" height="21" fill="#a0a0a0"/><rect x="456" y="21" width="26" height="1" fill="#fff"/>
<rect x="617" y="0" width="25" height="21" fill="url(#chk)"/><rect x="616" y="0" width="1" height="21" fill="#a0a0a0"/><rect x="617" y="21" width="25" height="1" fill="#fff"/>
<rect x="1063" y="0" width="25" height="21" fill="url(#chk)"/><rect x="1062" y="0" width="1" height="21" fill="#a0a0a0"/><rect x="1063" y="21" width="25" height="1" fill="#fff"/>
</g>

<!-- new order icon -->
<path d="M12.5,3.5 H20.5 L23.5,6.5 V16.5 H12.5 Z" fill="#fff" stroke="#6e6e6e"/>
<path d="M20.5,3.5 V6.5 H23.5" fill="#e0e0e0" stroke="#6e6e6e"/>
<rect x="14" y="5" width="3" height="2" fill="#909090"/>
<rect x="14" y="9" width="6" height="1" fill="#909090"/><rect x="14" y="11" width="5" height="1" fill="#909090"/><rect x="14" y="13" width="4" height="1" fill="#909090"/>
<path d="M20.5,9.5 H23.5 V12.5 H27.5 V16.5 H23.5 V20.5 H20.5 V16.5 H16.5 V12.5 H20.5 Z" fill="url(#gPlus)" stroke="#008a00"/>
<!-- 新订单 -->
<g fill="none" stroke="#000" stroke-width="1.1" stroke-linecap="square">
<path d="M34,4.5 V5.5 M31.5,6.5 H37.5 M32.5,7.5 L33,8.5 M36.5,7.5 L36,8.5 M31.5,9.5 H37.5 M31.5,11.5 H37.5 M34.5,9.5 V15 M34,12 L31.5,14.5 M35,12 L37,13.5"/>
<path d="M42.5,4 L39.5,5.5 V15 M39.5,9 H43.5 M41.5,9 V15"/>
<path d="M45,5 L46,6.5 M44.5,8.5 H46.5 V13.5 L47.5,12.5 M48.5,5.5 H55.5 M52.5,5.5 V14.5 L51,14"/>
<path d="M59.5,4 L60.5,5.5 M64.5,4 L63.5,5.5 M57.5,6.5 H65.5 V11.5 H57.5 Z M57.5,9 H65.5 M61.5,6.5 V15 M56,13 H67"/>
</g>
<!-- gold book -->
<path d="M84,4.3 L95,11.8 L95,13 L86.6,19 L79,13.2 L79,12.4 Z" fill="#b87818" />
<path d="M84,4.3 L95,11.8 L86.6,17.6 L79,12.4 C80.5,10.5 82.5,8 84,4.3 Z" fill="url(#gGold)" stroke="#a06818" stroke-width="0.8"/>
<path d="M80,13.6 L86.6,18.2 L94.2,12.8" fill="none" stroke="#f8e8b0" stroke-width="0.7"/>
<!-- cloud server -->
<path d="M108.5,4.5 L111,3 V12.5 L108.5,13.5 Z" fill="#1060c0"/>
<path d="M108.5,4.5 L111,3 H120 L118,4.5 Z" fill="#60b8ff"/>
<rect x="111" y="3" width="9" height="9.5" fill="#2a90f0" stroke="#1a6ad0" stroke-width="0.7"/>
<path d="M113,6.5 H118.5 M113,8.5 H118.5" stroke="#d8eeff" stroke-width="1"/>
<path d="M108,18.5 C105.8,18.5 105.8,15 108.3,15 C109,12.6 112.3,12.3 113.4,13.8 C114.8,11.2 119,11.6 119.5,14.3 C122.5,13.8 123.5,18.5 121,18.5 Z" fill="#eef2fa" stroke="#5070a8" stroke-width="0.9"/>
<path d="M108.5,17 H121" stroke="#c8d4e8" stroke-width="1"/>
<!-- radar -->
<g fill="none">
<circle cx="142.7" cy="10.6" r="7.8" stroke="#5a88d8" stroke-width="1" opacity="0.7"/>
<circle cx="142.7" cy="10.6" r="5" stroke="#5a88d8" stroke-width="1" opacity="0.8"/>
<path d="M142.7,18.4 A7.8,7.8 0 0 0 150.5,10.6" stroke="#60b060" stroke-width="1.2"/>
</g>
<circle cx="142.7" cy="10.6" r="1.8" fill="#2050c0"/>
<rect x="142.5" y="11" width="1.3" height="8" fill="#20a020"/>
<!-- auto trading -->
<path d="M163,9.5 L177.5,9.5 L171.5,19 L169.5,19 Z" fill="#f0d848" stroke="#c8a020" stroke-width="0.8"/>
<ellipse cx="170" cy="8" rx="8.2" ry="2.8" fill="#5aa8e0" stroke="#2a78b8" stroke-width="0.8"/>
<path d="M165.2,7.6 C165.2,2.2 174.8,2.2 174.8,7.6 Z" fill="#7cc0ee" stroke="#2a78b8" stroke-width="0.8"/>
<path d="M166.5,5.5 C167.5,4 169.5,3.6 171,3.8" stroke="#c8e8ff" stroke-width="0.8" fill="none"/>
<circle cx="174.6" cy="14.6" r="4.4" fill="#e02010" stroke="#b01008" stroke-width="0.6"/>
<rect x="173" y="13" width="3.2" height="3.2" fill="#fff"/>
<!-- 自动交易 -->
<g fill="none" stroke="#000" stroke-width="1.1" stroke-linecap="square">
<path d="M189.5,4 L188.5,5.5 M185.5,6.5 H192.5 V15 H185.5 Z M185.5,9 H192.5 M185.5,11.5 H192.5 M185.5,14 H192.5"/>
<path d="M196.5,5.5 H200.5 M195.5,8.5 H201.5 M198,8.5 L196,13.5 H201 M200,11.5 L201.5,13.5 M202.5,7.5 H207.5 V14.5 L206,14 M205,4.5 V8.5 L202.5,14.5"/>
<path d="M214,4 V5 M208.5,5.5 H219.5 M211.5,7 L209.5,9 M216.5,7 L218.5,9 M211,10 L218.5,15 M217,10 L209,15"/>
<path d="M223.5,4.5 H229.5 V9.5 H223.5 Z M223.5,7 H229.5 M221,10.5 H230.5 L229.5,15 H228 M224.5,10.5 L221.5,14 M227,10.5 L224,15 M229,11.5 L226.5,15"/>
</g>
<!-- bar chart icon -->
<g stroke="#505050" stroke-width="1.4" fill="none">
<path d="M256.5,5 V19 M254,16.6 H268"/>
</g>
<path d="M254.5,7 L256.5,4.5 L258.5,7 Z M266,14.6 L268.5,16.6 L266,18.6 Z" fill="#505050"/>
<path d="M261,13.5 H263.5 V6.5 H265.5" fill="none" stroke="#10a010" stroke-width="1.3"/>
<!-- candle chart icon -->
<g stroke="#505050" stroke-width="1.4" fill="none">
<path d="M284.5,5 V19 M282,16.6 H296"/>
</g>
<path d="M282.5,7 L284.5,4.5 L286.5,7 Z M294,14.6 L296.5,16.6 L294,18.6 Z" fill="#505050"/>
<rect x="290" y="3" width="1.3" height="12" fill="#10a010"/>
<rect x="288.3" y="5.7" width="4.6" height="6.8" fill="#30e030" stroke="#10a010" stroke-width="0.9"/>
<!-- line chart icon -->
<g stroke="#505050" stroke-width="1.4" fill="none">
<path d="M312.5,5 V19 M310,16.6 H324"/>
</g>
<path d="M310.5,7 L312.5,4.5 L314.5,7 Z M322,14.6 L324.5,16.6 L322,18.6 Z" fill="#505050"/>
<path d="M311,13.5 C314,10 315.5,7.5 317,8 C318.5,8.5 320,11 322.5,12" fill="none" stroke="#30a030" stroke-width="1.2"/>
<!-- zoom in / out -->
<g>
<path d="M351.5,12.5 L356.5,17.5" stroke="#a07810" stroke-width="3.6"/>
<path d="M351.5,12.5 L356.5,17.5" stroke="#e8d050" stroke-width="2.2"/>
<circle cx="348" cy="9.1" r="5.4" fill="#dff0fb" stroke="#3a7cc8" stroke-width="1.2"/>
<path d="M345,9.1 H351 M348,6.1 V12.1" stroke="#4a80b0" stroke-width="2"/>
<path d="M379.5,12.5 L384.5,17.5" stroke="#a07810" stroke-width="3.6"/>
<path d="M379.5,12.5 L384.5,17.5" stroke="#e8d050" stroke-width="2.2"/>
<circle cx="376" cy="9.1" r="5.4" fill="#dff0fb" stroke="#3a7cc8" stroke-width="1.2"/>
<path d="M373,9.1 H379" stroke="#4a80b0" stroke-width="2"/>
</g>
<!-- tile windows -->
<g shape-rendering="crispEdges">
<rect x="398" y="3" width="8" height="8" fill="#28a020"/><rect x="406" y="3" width="8" height="8" fill="#2060d0"/>
<rect x="398" y="11" width="8" height="8" fill="#2060d0"/><rect x="406" y="11" width="8" height="8" fill="#28a020"/>
<g fill="#ffffff" opacity="0.9">
<rect x="399" y="6" width="6" height="4"/><rect x="407" y="6" width="6" height="4"/><rect x="399" y="14" width="6" height="4"/><rect x="407" y="14" width="6" height="4"/>
</g>
<g fill="#88c888"><rect x="400" y="7" width="4" height="1"/><rect x="408" y="15" width="4" height="1"/></g>
<g fill="#7090d8"><rect x="408" y="7" width="1" height="1"/><rect x="411" y="7" width="1" height="1"/><rect x="400" y="15" width="1" height="1"/><rect x="403" y="15" width="1" height="1"/></g>
</g>
<!-- autoscroll icon -->
<g stroke="#505050" stroke-width="1.4" fill="none">
<path d="M436.5,5 V19 M434,16.6 H448"/>
</g>
<path d="M434.5,7 L436.5,4.5 L438.5,7 Z M446,14.6 L448.5,16.6 L446,18.6 Z" fill="#505050"/>
<path d="M441.5,7 L445.5,10.5 L441.5,14 Z" fill="#40d040" stroke="#10a010" stroke-width="0.9"/>
<!-- chart shift icon -->
<g stroke="#505050" stroke-width="1.4" fill="none">
<path d="M464.5,5 V19 M462,16.6 H476"/>
</g>
<path d="M462.5,7 L464.5,4.5 L466.5,7 Z M474,14.6 L476.5,16.6 L474,18.6 Z" fill="#505050"/>
<rect x="469.8" y="5" width="1.3" height="10" fill="#2060a0"/>
<path d="M471.5,10.4 L474.5,8 L474,10 H476 V10.8 H474 L474.5,12.8 Z" fill="#e05010"/>
<!-- indicators -->
<path d="M495.5,3.5 H503 L506.5,7 V17 H495.5 Z" fill="#fff" stroke="#707070"/>
<path d="M503,3.5 V7 H506.5" fill="#e0e0e0" stroke="#707070"/>
<path d="M500,7 C499,7 498.5,8 498.5,9 V14 M497.5,10 H500" fill="none" stroke="#505050" stroke-width="0.9"/>
<path d="M503.5,9.5 H506.5 V13 H510.5 V16.5 H506.5 V20.5 H503.5 V16.5 H499.5 V13 H503.5 Z" fill="url(#gPlus)" stroke="#008a00"/>
<path d="M517,10 H523 L520,13 Z" fill="#000"/>
<!-- clock -->
<circle cx="541" cy="11" r="7.8" fill="url(#gClock)"/>
<circle cx="541" cy="11" r="7.6" fill="none" stroke="#0a50b0" stroke-width="0.6"/>
<circle cx="541" cy="11" r="5.6" fill="#f4f8ff" stroke="#3a78c8" stroke-width="0.5"/>
<path d="M540.6,7.6 V11.2 H543.6" fill="none" stroke="#202020" stroke-width="1.1"/>
<g fill="#90a0b0"><rect x="540.6" y="6.3" width="0.8" height="0.8"/><rect x="540.6" y="14.9" width="0.8" height="0.8"/><rect x="536.4" y="10.6" width="0.8" height="0.8"/><rect x="544.8" y="10.6" width="0.8" height="0.8"/></g>
<path d="M556,10 H562 L559,13 Z" fill="#000"/>
<!-- templates -->
<rect x="572.5" y="4.5" width="15" height="13" fill="#fff" stroke="#2a70c0"/>
<rect x="573" y="5" width="14" height="2" fill="#5a98e0"/>
<rect x="573" y="11.5" width="14" height="1" fill="#2a70c0"/>
<path d="M574,10 L576,9.5 L578,8.5 L580,9.5 L582,8.5 L584.5,8.2" fill="none" stroke="#b03010" stroke-width="1.1"/>
<path d="M574.5,15.2 L576.5,14.8 L578.5,15.2 L580.5,13.5 L582.5,15 L584.5,15.5" fill="none" stroke="#20a020" stroke-width="1.1"/>
<path d="M595,10 H601 L598,13 Z" fill="#000"/>
<!-- cursor -->
<path d="M624,4 L632.5,11.5 L629,11.8 L631.2,17 L628.8,18 L626.5,13 L624,15.3 Z" fill="#505050"/>
<!-- crosshair -->
<path d="M656.6,4 V10.5 M656.6,12.5 V19 M649,11.4 H655.5 M657.5,11.4 H664.5" stroke="#505050" stroke-width="1.3"/>
<!-- vertical / horizontal / trend -->
<path d="M690.4,5 V17.8" stroke="#404040" stroke-width="1.5" stroke-linecap="round"/>
<path d="M713,11.4 H725" stroke="#404040" stroke-width="1.5" stroke-linecap="round"/>
<path d="M741,17.6 L753,5.8" stroke="#404040" stroke-width="1.3" stroke-linecap="round"/>
<!-- equidistant channel -->
<path d="M767,12.6 L774.6,5.2 M772.3,17.5 L781.1,9.2" stroke="#404040" stroke-width="0.9" fill="none"/>
<path d="M769.5,10.2 C769,13 769.5,15 769.4,17.5 M772.4,9.2 C772.2,11 772.8,12.5 772.6,14.5 M775.6,7.2 C775.3,9.5 775.9,11 775.8,13.6 M778.6,3 C778.4,5.5 779,7.5 778.9,10" stroke="#303030" stroke-width="1.3" fill="none"/>
<path d="M782,15.5 H778.5 V19.5 H782 M778.5,17.5 H781.5" stroke="#404040" stroke-width="1.2" fill="none"/>
<!-- fibo -->
<g fill="#404040" shape-rendering="crispEdges">
<rect x="796" y="4" width="1" height="1"/><rect x="798" y="4" width="1" height="1"/><rect x="800" y="4" width="1" height="1"/><rect x="802" y="4" width="1" height="1"/><rect x="804" y="4" width="1" height="1"/><rect x="806" y="4" width="1" height="1"/><rect x="808" y="4" width="1" height="1"/>
<rect x="796" y="7" width="1" height="1"/><rect x="798" y="7" width="1" height="1"/><rect x="800" y="7" width="1" height="1"/><rect x="802" y="7" width="1" height="1"/><rect x="804" y="7" width="1" height="1"/><rect x="806" y="7" width="1" height="1"/><rect x="808" y="7" width="1" height="1"/>
<rect x="796" y="11" width="1" height="1"/><rect x="798" y="11" width="1" height="1"/><rect x="800" y="11" width="1" height="1"/><rect x="802" y="11" width="1" height="1"/><rect x="804" y="11" width="1" height="1"/><rect x="806" y="11" width="1" height="1"/><rect x="808" y="11" width="1" height="1"/>
<rect x="796" y="15" width="1" height="1"/><rect x="798" y="15" width="1" height="1"/><rect x="800" y="15" width="1" height="1"/><rect x="802" y="15" width="1" height="1"/><rect x="804" y="15" width="1" height="1"/>
</g>
<path d="M810,15.5 H806.5 V20 M806.5,17.5 H809.5" stroke="#404040" stroke-width="1.2" fill="none"/>
<!-- A -->
<path d="M827.5,16 L830.7,7 L834,16 M828.8,13 H832.6" stroke="#505050" stroke-width="1.4" fill="none"/>
<!-- T box -->
<rect x="853.5" y="5.5" width="11" height="12" fill="none" stroke="#505050" stroke-width="1" stroke-dasharray="1,1" shape-rendering="crispEdges"/>
<rect x="852" y="4" width="2" height="2" fill="#505050"/>
<path d="M855.5,8.5 H863 M859.2,8.5 V16" stroke="#505050" stroke-width="1.6"/>
<!-- arrows icon -->
<path d="M880,8.5 L883.5,5 L887,8.5 L883.5,9.8 Z" fill="#505050"/>
<path d="M882,12 L884,14.5 L889,9" stroke="#505050" stroke-width="1.2" fill="none"/>
<path d="M887.5,14 L890.8,17.8 L894,14 L890.8,13 Z" fill="#505050"/>
<path d="M901,10 H907 L904,13 Z" fill="#000"/>
<!-- timeframes -->
<g font-family="Liberation Sans, sans-serif" font-size="11" fill="#333" stroke="#333" stroke-width="0.3">
<text x="928" y="16" textLength="12.5" lengthAdjust="spacingAndGlyphs">M1</text>
<text x="956" y="16" textLength="12.5" lengthAdjust="spacingAndGlyphs">M5</text>
<text x="981" y="16" textLength="18.5" lengthAdjust="spacingAndGlyphs">M15</text>
<text x="1009" y="16" textLength="18.5" lengthAdjust="spacingAndGlyphs">M30</text>
<text x="1040" y="16" textLength="12.5" lengthAdjust="spacingAndGlyphs">H1</text>
<text x="1067" y="16" textLength="13" lengthAdjust="spacingAndGlyphs">H4</text>
<text x="1096" y="16" textLength="12.5" lengthAdjust="spacingAndGlyphs">D1</text>
<text x="1124" y="16" textLength="14" lengthAdjust="spacingAndGlyphs">W1</text>
<text x="1151" y="16" textLength="14.5" lengthAdjust="spacingAndGlyphs">MN</text>
</g>
<!-- search -->
<path d="M1637,16 L1641.5,11.5" stroke="#2060c8" stroke-width="2.6" stroke-linecap="round"/>
<circle cx="1643.5" cy="8.5" r="3.8" fill="none" stroke="#2a66e0" stroke-width="1.5"/>
<!-- bubble + badge -->
<path d="M1661,14.5 C1661,10 1671,10 1671,14.5 C1671,17.5 1666,18 1665,18 L1663.5,20 L1664,17.6 C1662,17 1661,16 1661,14.5 Z" fill="#dcdce8" stroke="#a0a0a8" stroke-width="0.8"/>
<circle cx="1674.5" cy="8.6" r="8" fill="url(#gBadge)"/>
<path d="M1673,5.6 L1675,4 V13.2 M1673,13.2 H1677" stroke="#fff" stroke-width="1.2" fill="none"/>
</g>
 -->
<defs>
<pattern id="chk" width="2" height="2" patternUnits="userSpaceOnUse"><rect width="2" height="2" fill="#f3f3f3"/><rect width="1" height="1" fill="#fcfcfc"/><rect x="1" y="1" width="1" height="1" fill="#fcfcfc"/></pattern>
<linearGradient id="gPlus" x1="0" y1="0" x2="1" y2="1"><stop offset="0" stop-color="#9af59a"/><stop offset="0.5" stop-color="#10e010"/><stop offset="1" stop-color="#00b000"/></linearGradient>
<linearGradient id="gGold" x1="0" y1="0" x2="1" y2="1"><stop offset="0" stop-color="#f8e070"/><stop offset="0.6" stop-color="#e0b020"/><stop offset="1" stop-color="#b07810"/></linearGradient>
<radialGradient id="gClock" cx="0.4" cy="0.35" r="0.7"><stop offset="0" stop-color="#80c8ff"/><stop offset="0.6" stop-color="#1e78e0"/><stop offset="1" stop-color="#0a4aa8"/></radialGradient>
<radialGradient id="gBadge" cx="0.4" cy="0.3" r="0.8"><stop offset="0" stop-color="#f06040"/><stop offset="1" stop-color="#d81808"/></radialGradient>
</defs>
<g id="toolbar">
<rect x="0" y="0" width="1689" height="23" fill="#f0f0f0"/>
<rect x="0" y="22" width="1689" height="1" fill="#f7f7f7"/>
<g shape-rendering="crispEdges">
<!-- separators -->
<rect x="2" y="2" width="1" height="18" fill="#a0a0a0"/>
<rect x="238" y="0" width="1" height="22" fill="#a0a0a0"/><rect x="239" y="0" width="1" height="22" fill="#ffffff"/>
<rect x="276" y="0" width="1" height="21" fill="#a0a0a0"/>
<rect x="333" y="0" width="1" height="21" fill="#a0a0a0"/>
<rect x="423" y="0" width="1" height="21" fill="#a0a0a0"/>
<rect x="485" y="0" width="1" height="21" fill="#a0a0a0"/>
<rect x="606" y="0" width="1" height="22" fill="#a0a0a0"/><rect x="607" y="0" width="1" height="22" fill="#ffffff"/>
<rect x="673" y="0" width="1" height="21" fill="#a0a0a0"/>
<rect x="912" y="0" width="1" height="22" fill="#a0a0a0"/><rect x="913" y="0" width="1" height="22" fill="#ffffff"/>
<rect x="1173" y="0" width="1" height="21" fill="#a0a0a0"/>
<!-- grippers -->
<g fill="#a8a8a8">
<rect x="242" y="1" width="4" height="1"/><rect x="242" y="3" width="4" height="1"/><rect x="242" y="5" width="4" height="1"/><rect x="242" y="7" width="4" height="1"/><rect x="242" y="9" width="4" height="1"/><rect x="242" y="11" width="4" height="1"/><rect x="242" y="13" width="4" height="1"/><rect x="242" y="15" width="4" height="1"/><rect x="242" y="17" width="4" height="1"/><rect x="242" y="19" width="4" height="1"/>
<rect x="610" y="1" width="4" height="1"/><rect x="610" y="3" width="4" height="1"/><rect x="610" y="5" width="4" height="1"/><rect x="610" y="7" width="4" height="1"/><rect x="610" y="9" width="4" height="1"/><rect x="610" y="11" width="4" height="1"/><rect x="610" y="13" width="4" height="1"/><rect x="610" y="15" width="4" height="1"/><rect x="610" y="17" width="4" height="1"/><rect x="610" y="19" width="4" height="1"/>
<rect x="916" y="1" width="4" height="1"/><rect x="916" y="3" width="4" height="1"/><rect x="916" y="5" width="4" height="1"/><rect x="916" y="7" width="4" height="1"/><rect x="916" y="9" width="4" height="1"/><rect x="916" y="11" width="4" height="1"/><rect x="916" y="13" width="4" height="1"/><rect x="916" y="15" width="4" height="1"/><rect x="916" y="17" width="4" height="1"/><rect x="916" y="19" width="4" height="1"/>
</g>
<!-- pressed buttons -->
<rect x="277" y="0" width="25" height="21" fill="url(#chk)"/><rect x="277" y="21" width="25" height="1" fill="#fff"/>
<rect x="428" y="0" width="25" height="21" fill="url(#chk)"/><rect x="428" y="0" width="1" height="21" fill="#a0a0a0"/><rect x="428" y="21" width="25" height="1" fill="#fff"/>
<rect x="456" y="0" width="26" height="21" fill="url(#chk)"/><rect x="456" y="0" width="1" height="21" fill="#a0a0a0"/><rect x="456" y="21" width="26" height="1" fill="#fff"/>
<rect x="617" y="0" width="25" height="21" fill="url(#chk)"/><rect x="616" y="0" width="1" height="21" fill="#a0a0a0"/><rect x="617" y="21" width="25" height="1" fill="#fff"/>
<rect x="1063" y="0" width="25" height="21" fill="url(#chk)"/><rect x="1062" y="0" width="1" height="21" fill="#a0a0a0"/><rect x="1063" y="21" width="25" height="1" fill="#fff"/>
</g>

<!-- new order icon -->
<path d="M12.5,3.5 H20.5 L23.5,6.5 V16.5 H12.5 Z" fill="#fff" stroke="#6e6e6e"/>
<path d="M20.5,3.5 V6.5 H23.5" fill="#e0e0e0" stroke="#6e6e6e"/>
<rect x="14" y="5" width="3" height="2" fill="#909090"/>
<rect x="14" y="9" width="6" height="1" fill="#909090"/><rect x="14" y="11" width="5" height="1" fill="#909090"/><rect x="14" y="13" width="4" height="1" fill="#909090"/>
<path d="M20.5,9.5 H23.5 V12.5 H27.5 V16.5 H23.5 V20.5 H20.5 V16.5 H16.5 V12.5 H20.5 Z" fill="url(#gPlus)" stroke="#008a00"/>
<!-- 新订单 -->
<g fill="none" stroke="#000" stroke-width="1.1" stroke-linecap="square">
<path d="M34,4.5 V5.5 M31.5,6.5 H37.5 M32.5,7.5 L33,8.5 M36.5,7.5 L36,8.5 M31.5,9.5 H37.5 M31.5,11.5 H37.5 M34.5,9.5 V15 M34,12 L31.5,14.5 M35,12 L37,13.5"/>
<path d="M42.5,4 L39.5,5.5 V15 M39.5,9 H43.5 M41.5,9 V15"/>
<path d="M45,5 L46,6.5 M44.5,8.5 H46.5 V13.5 L47.5,12.5 M48.5,5.5 H55.5 M52.5,5.5 V14.5 L51,14"/>
<path d="M59.5,4 L60.5,5.5 M64.5,4 L63.5,5.5 M57.5,6.5 H65.5 V11.5 H57.5 Z M57.5,9 H65.5 M61.5,6.5 V15 M56,13 H67"/>
</g>
<!-- gold book -->
<path d="M84,4.3 L95,11.8 L95,13 L86.6,19 L79,13.2 L79,12.4 Z" fill="#b87818" />
<path d="M84,4.3 L95,11.8 L86.6,17.6 L79,12.4 C80.5,10.5 82.5,8 84,4.3 Z" fill="url(#gGold)" stroke="#a06818" stroke-width="0.8"/>
<path d="M80,13.6 L86.6,18.2 L94.2,12.8" fill="none" stroke="#f8e8b0" stroke-width="0.7"/>
<!-- cloud server -->
<path d="M108.5,4.5 L111,3 V12.5 L108.5,13.5 Z" fill="#1060c0"/>
<path d="M108.5,4.5 L111,3 H120 L118,4.5 Z" fill="#60b8ff"/>
<rect x="111" y="3" width="9" height="9.5" fill="#2a90f0" stroke="#1a6ad0" stroke-width="0.7"/>
<path d="M113,6.5 H118.5 M113,8.5 H118.5" stroke="#d8eeff" stroke-width="1"/>
<path d="M108,18.5 C105.8,18.5 105.8,15 108.3,15 C109,12.6 112.3,12.3 113.4,13.8 C114.8,11.2 119,11.6 119.5,14.3 C122.5,13.8 123.5,18.5 121,18.5 Z" fill="#eef2fa" stroke="#5070a8" stroke-width="0.9"/>
<path d="M108.5,17 H121" stroke="#c8d4e8" stroke-width="1"/>
<!-- radar -->
<g fill="none">
<circle cx="142.7" cy="10.6" r="7.8" stroke="#5a88d8" stroke-width="1" opacity="0.7"/>
<circle cx="142.7" cy="10.6" r="5" stroke="#5a88d8" stroke-width="1" opacity="0.8"/>
<path d="M142.7,18.4 A7.8,7.8 0 0 0 150.5,10.6" stroke="#60b060" stroke-width="1.2"/>
</g>
<circle cx="142.7" cy="10.6" r="1.8" fill="#2050c0"/>
<rect x="142.5" y="11" width="1.3" height="8" fill="#20a020"/>
<!-- auto trading -->
<path d="M163,9.5 L177.5,9.5 L171.5,19 L169.5,19 Z" fill="#f0d848" stroke="#c8a020" stroke-width="0.8"/>
<ellipse cx="170" cy="8" rx="8.2" ry="2.8" fill="#5aa8e0" stroke="#2a78b8" stroke-width="0.8"/>
<path d="M165.2,7.6 C165.2,2.2 174.8,2.2 174.8,7.6 Z" fill="#7cc0ee" stroke="#2a78b8" stroke-width="0.8"/>
<path d="M166.5,5.5 C167.5,4 169.5,3.6 171,3.8" stroke="#c8e8ff" stroke-width="0.8" fill="none"/>
<circle cx="174.6" cy="14.6" r="4.4" fill="#e02010" stroke="#b01008" stroke-width="0.6"/>
<rect x="173" y="13" width="3.2" height="3.2" fill="#fff"/>
<!-- 自动交易 -->
<g fill="none" stroke="#000" stroke-width="1.1" stroke-linecap="square">
<path d="M189.5,4 L188.5,5.5 M185.5,6.5 H192.5 V15 H185.5 Z M185.5,9 H192.5 M185.5,11.5 H192.5 M185.5,14 H192.5"/>
<path d="M196.5,5.5 H200.5 M195.5,8.5 H201.5 M198,8.5 L196,13.5 H201 M200,11.5 L201.5,13.5 M202.5,7.5 H207.5 V14.5 L206,14 M205,4.5 V8.5 L202.5,14.5"/>
<path d="M214,4 V5 M208.5,5.5 H219.5 M211.5,7 L209.5,9 M216.5,7 L218.5,9 M211,10 L218.5,15 M217,10 L209,15"/>
<path d="M223.5,4.5 H229.5 V9.5 H223.5 Z M223.5,7 H229.5 M221,10.5 H230.5 L229.5,15 H228 M224.5,10.5 L221.5,14 M227,10.5 L224,15 M229,11.5 L226.5,15"/>
</g>
<!-- bar chart icon -->
<g stroke="#505050" stroke-width="1.4" fill="none">
<path d="M256.5,5 V19 M254,16.6 H268"/>
</g>
<path d="M254.5,7 L256.5,4.5 L258.5,7 Z M266,14.6 L268.5,16.6 L266,18.6 Z" fill="#505050"/>
<path d="M261,13.5 H263.5 V6.5 H265.5" fill="none" stroke="#10a010" stroke-width="1.3"/>
<!-- candle chart icon -->
<g stroke="#505050" stroke-width="1.4" fill="none">
<path d="M284.5,5 V19 M282,16.6 H296"/>
</g>
<path d="M282.5,7 L284.5,4.5 L286.5,7 Z M294,14.6 L296.5,16.6 L294,18.6 Z" fill="#505050"/>
<rect x="290" y="3" width="1.3" height="12" fill="#10a010"/>
<rect x="288.3" y="5.7" width="4.6" height="6.8" fill="#30e030" stroke="#10a010" stroke-width="0.9"/>
<!-- line chart icon -->
<g stroke="#505050" stroke-width="1.4" fill="none">
<path d="M312.5,5 V19 M310,16.6 H324"/>
</g>
<path d="M310.5,7 L312.5,4.5 L314.5,7 Z M322,14.6 L324.5,16.6 L322,18.6 Z" fill="#505050"/>
<path d="M311,13.5 C314,10 315.5,7.5 317,8 C318.5,8.5 320,11 322.5,12" fill="none" stroke="#30a030" stroke-width="1.2"/>
<!-- zoom in / out -->
<g>
<path d="M351.5,12.5 L356.5,17.5" stroke="#a07810" stroke-width="3.6"/>
<path d="M351.5,12.5 L356.5,17.5" stroke="#e8d050" stroke-width="2.2"/>
<circle cx="348" cy="9.1" r="5.4" fill="#dff0fb" stroke="#3a7cc8" stroke-width="1.2"/>
<path d="M345,9.1 H351 M348,6.1 V12.1" stroke="#4a80b0" stroke-width="2"/>
<path d="M379.5,12.5 L384.5,17.5" stroke="#a07810" stroke-width="3.6"/>
<path d="M379.5,12.5 L384.5,17.5" stroke="#e8d050" stroke-width="2.2"/>
<circle cx="376" cy="9.1" r="5.4" fill="#dff0fb" stroke="#3a7cc8" stroke-width="1.2"/>
<path d="M373,9.1 H379" stroke="#4a80b0" stroke-width="2"/>
</g>
<!-- tile windows -->
<g shape-rendering="crispEdges">
<rect x="398" y="3" width="8" height="8" fill="#28a020"/><rect x="406" y="3" width="8" height="8" fill="#2060d0"/>
<rect x="398" y="11" width="8" height="8" fill="#2060d0"/><rect x="406" y="11" width="8" height="8" fill="#28a020"/>
<g fill="#ffffff" opacity="0.9">
<rect x="399" y="6" width="6" height="4"/><rect x="407" y="6" width="6" height="4"/><rect x="399" y="14" width="6" height="4"/><rect x="407" y="14" width="6" height="4"/>
</g>
<g fill="#88c888"><rect x="400" y="7" width="4" height="1"/><rect x="408" y="15" width="4" height="1"/></g>
<g fill="#7090d8"><rect x="408" y="7" width="1" height="1"/><rect x="411" y="7" width="1" height="1"/><rect x="400" y="15" width="1" height="1"/><rect x="403" y="15" width="1" height="1"/></g>
</g>
<!-- autoscroll icon -->
<g stroke="#505050" stroke-width="1.4" fill="none">
<path d="M436.5,5 V19 M434,16.6 H448"/>
</g>
<path d="M434.5,7 L436.5,4.5 L438.5,7 Z M446,14.6 L448.5,16.6 L446,18.6 Z" fill="#505050"/>
<path d="M441.5,7 L445.5,10.5 L441.5,14 Z" fill="#40d040" stroke="#10a010" stroke-width="0.9"/>
<!-- chart shift icon -->
<g stroke="#505050" stroke-width="1.4" fill="none">
<path d="M464.5,5 V19 M462,16.6 H476"/>
</g>
<path d="M462.5,7 L464.5,4.5 L466.5,7 Z M474,14.6 L476.5,16.6 L474,18.6 Z" fill="#505050"/>
<rect x="469.8" y="5" width="1.3" height="10" fill="#2060a0"/>
<path d="M471.5,10.4 L474.5,8 L474,10 H476 V10.8 H474 L474.5,12.8 Z" fill="#e05010"/>
<!-- indicators -->
<path d="M495.5,3.5 H503 L506.5,7 V17 H495.5 Z" fill="#fff" stroke="#707070"/>
<path d="M503,3.5 V7 H506.5" fill="#e0e0e0" stroke="#707070"/>
<path d="M500,7 C499,7 498.5,8 498.5,9 V14 M497.5,10 H500" fill="none" stroke="#505050" stroke-width="0.9"/>
<path d="M503.5,9.5 H506.5 V13 H510.5 V16.5 H506.5 V20.5 H503.5 V16.5 H499.5 V13 H503.5 Z" fill="url(#gPlus)" stroke="#008a00"/>
<path d="M517,10 H523 L520,13 Z" fill="#000"/>
<!-- clock -->
<circle cx="541" cy="11" r="7.8" fill="url(#gClock)"/>
<circle cx="541" cy="11" r="7.6" fill="none" stroke="#0a50b0" stroke-width="0.6"/>
<circle cx="541" cy="11" r="5.6" fill="#f4f8ff" stroke="#3a78c8" stroke-width="0.5"/>
<path d="M540.6,7.6 V11.2 H543.6" fill="none" stroke="#202020" stroke-width="1.1"/>
<g fill="#90a0b0"><rect x="540.6" y="6.3" width="0.8" height="0.8"/><rect x="540.6" y="14.9" width="0.8" height="0.8"/><rect x="536.4" y="10.6" width="0.8" height="0.8"/><rect x="544.8" y="10.6" width="0.8" height="0.8"/></g>
<path d="M556,10 H562 L559,13 Z" fill="#000"/>
<!-- templates -->
<rect x="572.5" y="4.5" width="15" height="13" fill="#fff" stroke="#2a70c0"/>
<rect x="573" y="5" width="14" height="2" fill="#5a98e0"/>
<rect x="573" y="11.5" width="14" height="1" fill="#2a70c0"/>
<path d="M574,10 L576,9.5 L578,8.5 L580,9.5 L582,8.5 L584.5,8.2" fill="none" stroke="#b03010" stroke-width="1.1"/>
<path d="M574.5,15.2 L576.5,14.8 L578.5,15.2 L580.5,13.5 L582.5,15 L584.5,15.5" fill="none" stroke="#20a020" stroke-width="1.1"/>
<path d="M595,10 H601 L598,13 Z" fill="#000"/>
<!-- cursor -->
<path d="M624,4 L632.5,11.5 L629,11.8 L631.2,17 L628.8,18 L626.5,13 L624,15.3 Z" fill="#505050"/>
<!-- crosshair -->
<path d="M656.6,4 V10.5 M656.6,12.5 V19 M649,11.4 H655.5 M657.5,11.4 H664.5" stroke="#505050" stroke-width="1.3"/>
<!-- vertical / horizontal / trend -->
<path d="M690.4,5 V17.8" stroke="#404040" stroke-width="1.5" stroke-linecap="round"/>
<path d="M713,11.4 H725" stroke="#404040" stroke-width="1.5" stroke-linecap="round"/>
<path d="M741,17.6 L753,5.8" stroke="#404040" stroke-width="1.3" stroke-linecap="round"/>
<!-- equidistant channel -->
<path d="M767,12.6 L774.6,5.2 M772.3,17.5 L781.1,9.2" stroke="#404040" stroke-width="0.9" fill="none"/>
<path d="M769.5,10.2 C769,13 769.5,15 769.4,17.5 M772.4,9.2 C772.2,11 772.8,12.5 772.6,14.5 M775.6,7.2 C775.3,9.5 775.9,11 775.8,13.6 M778.6,3 C778.4,5.5 779,7.5 778.9,10" stroke="#303030" stroke-width="1.3" fill="none"/>
<path d="M782,15.5 H778.5 V19.5 H782 M778.5,17.5 H781.5" stroke="#404040" stroke-width="1.2" fill="none"/>
<!-- fibo -->
<g fill="#404040" shape-rendering="crispEdges">
<rect x="796" y="4" width="1" height="1"/><rect x="798" y="4" width="1" height="1"/><rect x="800" y="4" width="1" height="1"/><rect x="802" y="4" width="1" height="1"/><rect x="804" y="4" width="1" height="1"/><rect x="806" y="4" width="1" height="1"/><rect x="808" y="4" width="1" height="1"/>
<rect x="796" y="7" width="1" height="1"/><rect x="798" y="7" width="1" height="1"/><rect x="800" y="7" width="1" height="1"/><rect x="802" y="7" width="1" height="1"/><rect x="804" y="7" width="1" height="1"/><rect x="806" y="7" width="1" height="1"/><rect x="808" y="7" width="1" height="1"/>
<rect x="796" y="11" width="1" height="1"/><rect x="798" y="11" width="1" height="1"/><rect x="800" y="11" width="1" height="1"/><rect x="802" y="11" width="1" height="1"/><rect x="804" y="11" width="1" height="1"/><rect x="806" y="11" width="1" height="1"/><rect x="808" y="11" width="1" height="1"/>
<rect x="796" y="15" width="1" height="1"/><rect x="798" y="15" width="1" height="1"/><rect x="800" y="15" width="1" height="1"/><rect x="802" y="15" width="1" height="1"/><rect x="804" y="15" width="1" height="1"/>
</g>
<path d="M810,15.5 H806.5 V20 M806.5,17.5 H809.5" stroke="#404040" stroke-width="1.2" fill="none"/>
<!-- A -->
<path d="M827.5,16 L830.7,7 L834,16 M828.8,13 H832.6" stroke="#505050" stroke-width="1.4" fill="none"/>
<!-- T box -->
<rect x="853.5" y="5.5" width="11" height="12" fill="none" stroke="#505050" stroke-width="1" stroke-dasharray="1,1" shape-rendering="crispEdges"/>
<rect x="852" y="4" width="2" height="2" fill="#505050"/>
<path d="M855.5,8.5 H863 M859.2,8.5 V16" stroke="#505050" stroke-width="1.6"/>
<!-- arrows icon -->
<path d="M880,8.5 L883.5,5 L887,8.5 L883.5,9.8 Z" fill="#505050"/>
<path d="M882,12 L884,14.5 L889,9" stroke="#505050" stroke-width="1.2" fill="none"/>
<path d="M887.5,14 L890.8,17.8 L894,14 L890.8,13 Z" fill="#505050"/>
<path d="M901,10 H907 L904,13 Z" fill="#000"/>
<!-- timeframes -->
<g font-family="Liberation Sans, sans-serif" font-size="11" fill="#333" stroke="#333" stroke-width="0.3">
<text x="928" y="16" textLength="12.5" lengthAdjust="spacingAndGlyphs">M1</text>
<text x="956" y="16" textLength="12.5" lengthAdjust="spacingAndGlyphs">M5</text>
<text x="981" y="16" textLength="18.5" lengthAdjust="spacingAndGlyphs">M15</text>
<text x="1009" y="16" textLength="18.5" lengthAdjust="spacingAndGlyphs">M30</text>
<text x="1040" y="16" textLength="12.5" lengthAdjust="spacingAndGlyphs">H1</text>
<text x="1067" y="16" textLength="13" lengthAdjust="spacingAndGlyphs">H4</text>
<text x="1096" y="16" textLength="12.5" lengthAdjust="spacingAndGlyphs">D1</text>
<text x="1124" y="16" textLength="14" lengthAdjust="spacingAndGlyphs">W1</text>
<text x="1151" y="16" textLength="14.5" lengthAdjust="spacingAndGlyphs">MN</text>
</g>
<!-- search -->
<path d="M1637,16 L1641.5,11.5" stroke="#2060c8" stroke-width="2.6" stroke-linecap="round"/>
<circle cx="1643.5" cy="8.5" r="3.8" fill="none" stroke="#2a66e0" stroke-width="1.5"/>
<!-- bubble + badge -->
<path d="M1661,14.5 C1661,10 1671,10 1671,14.5 C1671,17.5 1666,18 1665,18 L1663.5,20 L1664,17.6 C1662,17 1661,16 1661,14.5 Z" fill="#dcdce8" stroke="#a0a0a8" stroke-width="0.8"/>
<circle cx="1674.5" cy="8.6" r="8" fill="url(#gBadge)"/>
<path d="M1673,5.6 L1675,4 V13.2 M1673,13.2 H1677" stroke="#fff" stroke-width="1.2" fill="none"/>
</g>

</svg>
</body></html>
